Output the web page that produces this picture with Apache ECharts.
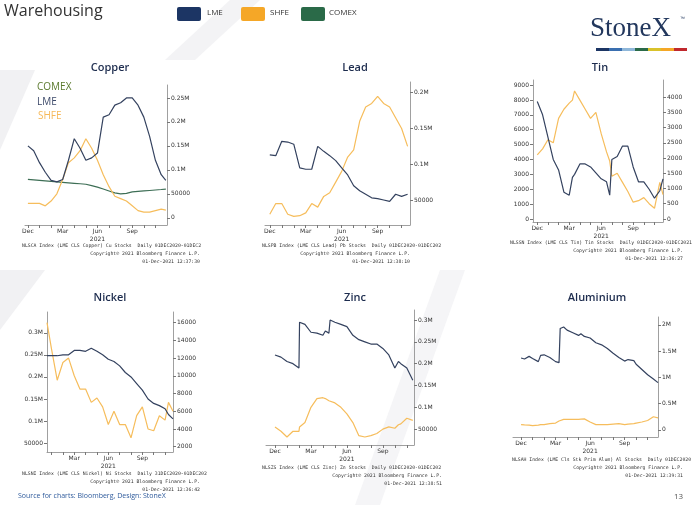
<!DOCTYPE html>
<html><head><meta charset="utf-8">
<script src="https://cdn.jsdelivr.net/npm/echarts@6/dist/echarts.min.js"></script>
<style>html,body{margin:0;padding:0;background:#fff}#c{width:700px;height:505px}</style>
</head><body><div id="c"></div>
<script>
// ---------- data (x in months since 1 Dec 2020) ----------
const monthTicks = [0,3,6,9];
const monthLabels = ['Dec','Mar','Jun\n2021','Sep'];

const cuX = [0,0.5,1,1.5,2,2.5,3,3.5,4,4.5,5,5.5,6,6.5,7,7.5,8,8.5,9,9.5,10,10.5,11,11.5,11.9];
const cuLME = [150000,140000,115000,95000,78000,75000,80000,120000,165000,145000,120000,125000,135000,210000,215000,235000,240000,250000,250000,235000,210000,170000,120000,90000,78000];
const cuSHFE = [30000,30000,30000,25000,35000,50000,80000,115000,125000,140000,165000,145000,120000,90000,65000,45000,40000,35000,25000,15000,12000,12000,15000,18000,16000];
const cuCOMEX = [80000,79000,78000,77000,76000,75000,74000,73000,72000,71000,70000,67000,64000,60000,56000,52000,50000,51000,54000,55000,56000,57000,58000,59000,60000];

const pbX = [0,0.5,1,1.5,2,2.5,3,3.5,4,4.5,5,5.5,6,6.5,7,7.5,8,8.5,9,9.5,10,10.5,11,11.5];
const pbLME = [113000,112000,132000,131000,128000,95000,93000,93000,125000,118000,112000,105000,95000,85000,70000,63000,58000,53000,52000,50000,48000,58000,55000,58000];
const pbSHFE = [30000,45000,45000,30000,27000,28000,32000,45000,40000,55000,60000,75000,90000,110000,120000,160000,180000,185000,195000,185000,180000,165000,150000,125000];

const snX = [0,0.5,1,1.5,2,2.5,3,3.3,3.5,4,4.5,5,5.5,6,6.5,6.8,7,7.5,8,8.5,9,9.5,10,10.5,11,11.5,11.8];
const snLME = [7900,7000,5500,4000,3300,1800,1600,2800,3000,3700,3700,3500,3100,2700,2500,1600,4000,4200,4900,4900,3500,2500,2500,2000,1400,1900,2700];
const snSHFE = [2100,2300,2600,2500,3300,3600,3800,3900,4200,3900,3600,3300,3500,2800,2200,1900,1400,1500,1200,900,550,600,700,500,350,1200,800];

const niX = [0.6,1,1.5,2,2.5,3,3.5,4,4.5,5,5.5,6,6.5,7,7.5,8,8.5,9,9.5,10,10.5,11,11.3,11.7];
const niLME = [248000,248000,248000,250000,250000,260000,260000,258000,265000,258000,250000,240000,235000,225000,210000,200000,185000,170000,150000,140000,135000,128000,115000,105000];
const niSHFE = [16000,13000,9500,11500,12000,10000,8500,8500,7000,7500,6500,4500,6000,4500,4500,3000,5500,6500,4000,3800,5500,5000,7000,6000];

const znX = [0,0.5,1,1.5,2,2.05,2.5,3,3.5,4,4.2,4.5,4.6,5,5.5,6,6.5,7,7.5,8,8.5,9,9.5,10,10.3,10.5,11,11.5];
const znLME = [220000,215000,205000,200000,190000,295000,290000,272000,270000,265000,275000,270000,300000,295000,290000,285000,265000,255000,250000,245000,245000,235000,220000,190000,205000,200000,190000,162000];
const znSHFE = [55000,45000,32000,45000,45000,55000,65000,100000,120000,122000,120000,115000,113000,110000,100000,85000,65000,35000,32000,35000,40000,50000,55000,52000,60000,62000,75000,70000];

const alX = [0,0.3,0.7,1,1.5,1.7,2,2.5,3,3.3,3.4,3.7,4,4.5,5,5.2,5.5,6,6.5,7,7.5,8,8.5,9,9.3,9.8,10,10.5,11,11.5,11.9];
const alLME = [1370000,1350000,1400000,1360000,1300000,1420000,1430000,1380000,1300000,1280000,1930000,1960000,1900000,1850000,1800000,1830000,1780000,1750000,1660000,1620000,1550000,1460000,1380000,1310000,1340000,1320000,1250000,1150000,1050000,970000,900000];
const alSHFE = [100000,95000,90000,80000,90000,100000,100000,120000,130000,170000,200000,200000,200000,200000,200000,205000,210000,150000,100000,100000,100000,110000,120000,100000,110000,120000,130000,150000,180000,250000,230000];

// ---------- helpers ----------
const NAVY='#34425f', ORANGE='#f6bd5c', GREEN='#3d6e55';
const pairs=(xs,ys)=>xs.map((x,i)=>[x,ys[i]]);
function fmtM(v){ if(Math.abs(v)>=100000) return (v/1e6)+'M'; return String(v); }

const grids=[], xAxes=[], yAxes=[], series=[];
function addChart(g, xmin, xmax, ys, sers){
  const gi=grids.length;
  grids.push(Object.assign({containLabel:false},g));
  xAxes.push({type:'value',gridIndex:gi,min:xmin,max:xmax,
    axisLine:{show:true,onZero:false,lineStyle:{color:'#888',width:0.8}},
    axisTick:{show:true,customValues:[0,1,2,3,4,5,6,7,8,9,10,11].filter(v=>v>=xmin&&v<=xmax),length:3,lineStyle:{color:'#777'}},
    axisLabel:{customValues:monthTicks.filter(v=>v>=xmin),formatter:v=>monthLabels[monthTicks.indexOf(v)]||'',fontSize:6,color:'#333',margin:2,lineHeight:8,fontFamily:'DejaVu Sans'},
    splitLine:{show:false}});
  ys.forEach(y=>{
    yAxes.push({type:'value',gridIndex:gi,position:y.pos,min:y.min,max:y.max,
      axisLine:{show:true,onZero:false,lineStyle:{color:'#888',width:0.8}},
      axisTick:{show:true,customValues:y.ticks,length:3,lineStyle:{color:'#777'}},
      axisLabel:{customValues:y.ticks,formatter:y.fmt||fmtM,fontSize:6,color:'#333',margin:4,fontFamily:'DejaVu Sans'},
      splitLine:{show:false}});
    y.idx=yAxes.length-1;
  });
  sers.forEach(s=>series.push({type:'line',xAxisIndex:xAxes.length-1,yAxisIndex:ys[s.y||0].idx,data:s.data,
    symbol:'none',lineStyle:{color:s.color,width:1.2},z:s.z||2,silent:true}));
}

addChart({left:25,top:85,width:142,height:140},-0.25,12,
  [{pos:'right',min:-15000,max:277000,ticks:[0,50000,100000,150000,200000,250000]}],
  [{data:pairs(cuX,cuCOMEX),color:GREEN},{data:pairs(cuX,cuSHFE),color:ORANGE},{data:pairs(cuX,cuLME),color:NAVY,z:3}]);
addChart({left:265,top:82,width:145,height:143},-0.4,11.7,
  [{pos:'right',min:15000,max:215000,ticks:[50000,100000,150000,200000]}],
  [{data:pairs(pbX,pbSHFE),color:ORANGE},{data:pairs(pbX,pbLME),color:NAVY,z:3}]);
addChart({left:533,top:80,width:130,height:142},-0.4,11.8,
  [{pos:'left',min:-200,max:9340,ticks:[0,1000,2000,3000,4000,5000,6000,7000,8000,9000],fmt:v=>String(v)},
   {pos:'right',min:-100,max:4560,ticks:[0,500,1000,1500,2000,2500,3000,3500,4000],fmt:v=>String(v)}],
  [{data:pairs(snX,snSHFE),color:ORANGE,y:1},{data:pairs(snX,snLME),color:NAVY,z:3,y:0}]);
addChart({left:47,top:312,width:126,height:140},0.6,11.7,
  [{pos:'left',min:30000,max:347000,ticks:[50000,100000,150000,200000,250000,300000]},
   {pos:'right',min:1400,max:17200,ticks:[2000,4000,6000,8000,10000,12000,14000,16000],fmt:v=>String(v)}],
  [{data:pairs(niX,niSHFE),color:ORANGE,y:1},{data:pairs(niX,niLME),color:NAVY,z:3,y:0}]);
addChart({left:266,top:310,width:148,height:135},-0.75,11.6,
  [{pos:'right',min:13600,max:323000,ticks:[50000,100000,150000,200000,250000,300000]}],
  [{data:pairs(znX,znSHFE),color:ORANGE},{data:pairs(znX,znLME),color:NAVY,z:3}]);
addChart({left:513,top:317,width:145,height:120},-0.7,11.9,
  [{pos:'right',min:-135000,max:2150000,ticks:[0,500000,1000000,1500000,2000000]}],
  [{data:pairs(alX,alSHFE),color:ORANGE},{data:pairs(alX,alLME),color:NAVY,z:3}]);

// ---------- decorations ----------
const TF='"Open Sans", sans-serif';
const titles=[['Copper',110,62],['Lead',355,62],['Tin',600,62],['Nickel',110,292],['Zinc',355,292],['Aluminium',597,292]];
const notes=[
 [22,243,200,'NLSCA Index (LME CLS Copper) Cu Stocks  Daily 01DEC2020-01DEC2','12:37:30'],
 [262,243,410,'NLSPB Index (LME CLS Lead) Pb Stocks  Daily 01DEC2020-01DEC202','12:38:10'],
 [510,240,683,'NLSSN Index (LME CLS Tin) Tin Stocks  Daily 01DEC2020-01DEC2021','12:36:27'],
 [22,471,200,'NLSNI Index (LME CLS Nickel) Ni Stocks  Daily 31DEC2020-01DEC202','12:36:42'],
 [262,465,442,'NLSZS Index (LME CLS Zinc) Zn Stocks  Daily 01DEC2020-01DEC202','12:38:51'],
 [512,457,683,'NLSAH Index (LME Cls Stk Prim Alum) Al Stocks  Daily 01DEC2020','12:39:31']];
const gfx=[
 {type:'polygon',shape:{points:[[0,70],[35,70],[0,150]]},style:{fill:'#f1f1f3'},z:-10},
 {type:'polygon',shape:{points:[[0,270],[45,270],[0,330]]},style:{fill:'#f1f1f3'},z:-10},
 {type:'polygon',shape:{points:[[165,60],[230,0],[260,0],[195,60]]},style:{fill:'#f3f3f5'},z:-10},
 {type:'polygon',shape:{points:[[440,270],[465,270],[380,505],[355,505]]},style:{fill:'#f5f5f7'},z:-10},
 {type:'text',left:4,top:3,style:{text:'Warehousing',font:'16px '+TF,fill:'#333'}},
 {type:'rect',shape:{x:177,y:7,width:24,height:14,r:2},style:{fill:'#1c3564'}},
 {type:'text',left:207,top:9,style:{text:'LME',font:'8px '+TF,fill:'#333'}},
 {type:'rect',shape:{x:241,y:7,width:24,height:14,r:2},style:{fill:'#f5a727'}},
 {type:'text',left:270,top:9,style:{text:'SHFE',font:'8px '+TF,fill:'#333'}},
 {type:'rect',shape:{x:301,y:7,width:24,height:14,r:2},style:{fill:'#2a6a48'}},
 {type:'text',left:329,top:9,style:{text:'COMEX',font:'8px '+TF,fill:'#333'}},
 {type:'text',left:590,top:15,style:{text:'StoneX',font:'27px "Liberation Serif", serif',fill:'#22375d'}},
 {type:'text',left:680,top:16,style:{text:'™',font:'5px sans-serif',fill:'#22375d'}},
 {type:'text',left:37,top:82,style:{text:'COMEX',font:'10px '+TF,fill:'#5b7a2e'}},
 {type:'text',left:37,top:97,style:{text:'LME',font:'10px '+TF,fill:'#3d4a6a'}},
 {type:'text',left:38,top:111,style:{text:'SHFE',font:'10px '+TF,fill:'#f6b95a'}},
 {type:'text',left:18,top:492,style:{text:'Source for charts: Bloomberg, Design: StoneX',font:'7px '+TF,fill:'#2f5b9c'}},
 {type:'text',left:674,top:493,style:{text:'13',font:'8px '+TF,fill:'#555'}}
];
['#1c3564','#3a6fb0','#8fb7d9','#2a6a48','#d9c22b','#f5a727','#c0282d'].forEach((c,i)=>{
  gfx.push({type:'rect',shape:{x:596+i*13,y:48,width:13,height:3},style:{fill:c}});
});
titles.forEach(t=>gfx.push({type:'text',x:t[1],y:t[2],style:{text:t[0],font:'600 11px '+TF,fill:'#1d2c4e',align:'center'}}));
notes.forEach(n=>{
  gfx.push({type:'text',x:n[0],y:n[1],style:{text:n[3],font:'4.8px "DejaVu Sans Mono", monospace',fill:'#333'}});
  gfx.push({type:'text',x:n[2],y:n[1]+8,style:{text:'Copyright© 2021 Bloomberg Finance L.P.',font:'4.8px "DejaVu Sans Mono", monospace',fill:'#333',align:'right'}});
  gfx.push({type:'text',x:n[2],y:n[1]+16,style:{text:'01-Dec-2021 '+n[4],font:'4.8px "DejaVu Sans Mono", monospace',fill:'#333',align:'right'}});
});

const chart=echarts.init(document.getElementById('c'));
chart.setOption({animation:false,backgroundColor:'#fff',grid:grids,xAxis:xAxes,yAxis:yAxes,series:series,graphic:gfx});
</script></body></html>
